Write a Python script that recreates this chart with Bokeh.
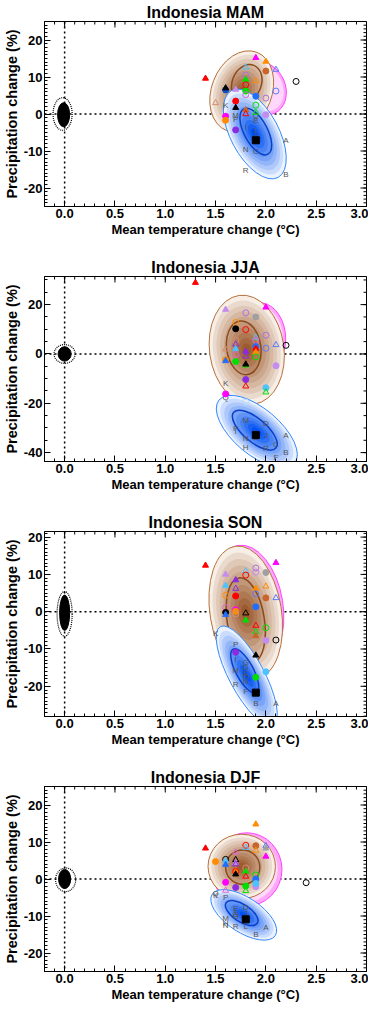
import numpy as np
from bokeh.plotting import figure
from bokeh.layouts import column
from bokeh.models import FixedTicker, PrintfTickFormatter, Range1d, Span, ColumnDataSource, Spacer
from bokeh.core.properties import value
from bokeh.embed import file_html
from bokeh.resources import INLINE

FONT = "Liberation Sans"

COL = {"RED": "#ff0000", "ORG": "#ff8c00", "MAG": "#ff00ff", "GRN": "#00e000",
       "BLU": "#1f6fff", "NAV": "#0a4fc8", "PUR": "#8a2be2", "LAV": "#c58cf0",
       "BRN": "#c8652a", "TAN": "#d4906c", "BLK": "#000000", "GRY": "#a0a0a0",
       "SKY": "#4cc3ff", "CRN": "#5b7cff", "ORC": "#e066d0", "VIO": "#b070e0",
       "PAL": "#b8dcff"}

# ---------------- titles / axes ----------------
titles = ["Indonesia MAM", "Indonesia JJA", "Indonesia SON", "Indonesia DJF"]
x_lo, x_hi = -0.2, 3.0
y_lo = [-25, -43.6, -28.1, -25]
y_hi = [25, 31.4, 21.5, 25]
y_major = [[-20, -10, 0, 10, 20], [-40, -20, 0, 20], [-20, -10, 0, 10, 20], [-20, -10, 0, 10, 20]]
y_minor_step = [1, 5, 1, 1]
x_major = [0.0, 0.5, 1.0, 1.5, 2.0, 2.5, 3.0]
x_minor_step = 0.1

# ---------------- ellipses: pink, brown, blue (outer) ----------------
mam_ell_x = [1.98, 1.76, 1.89]
mam_ell_y = [6.9, 6.1, -5.4]
mam_ell_w = [0.43, 0.60, 0.98]
mam_ell_h = [14.6, 22.7, 13.0]
mam_ell_a = [0.4, -0.37, -1.08]
mam_in_x = [1.81, 1.90]
mam_in_y = [8.3, -4.75]
mam_in_w = [0.29, 0.51]
mam_in_h = [10.4, 6.3]
mam_in_a = [-0.37, -1.08]

jja_ell_x = [1.97, 1.81, 1.91]
jja_ell_y = [7.5, 1.7, -31.5]
jja_ell_w = [0.45, 0.74, 0.98]
jja_ell_h = [26.6, 44.5, 18.7]
jja_ell_a = [0.14, 0.14, -0.70]
jja_in_x = [1.78, 1.89]
jja_in_y = [2.5, -30.9]
jja_in_w = [0.34, 0.55]
jja_in_h = [21.9, 9.4]
jja_in_a = [0.14, -0.70]

son_ell_x = [1.82, 1.80, 1.81]
son_ell_y = [1.5, -0.2, -17.2]
son_ell_w = [0.70, 0.71, 1.11]
son_ell_h = [33.0, 36.0, 9.4]
son_ell_a = [0.16, 0.16, -1.08]
son_in_x = [1.80, 1.79]
son_in_y = [-2.3, -15.9]
son_in_w = [0.37, 0.49]
son_in_h = [23.0, 4.7]
son_in_a = [0.16, -1.08]

djf_ell_x = [1.81, 1.76, 1.78]
djf_ell_y = [2.6, 3.4, -9.7]
djf_ell_w = [0.70, 0.67, 0.75]
djf_ell_h = [19.8, 17.4, 9.4]
djf_ell_a = [0.0, 0.0, -0.58]
djf_in_x = [1.77, 1.76]
djf_in_y = [3.2, -9.2]
djf_in_w = [0.34, 0.37]
djf_in_h = [9.3, 4.7]
djf_in_a = [0.0, -0.58]

# ---------------- natural variability cloud (core, fringe) ----------------
blob_x = [[-0.01, -0.02], [0.0, 0.0], [0.0, 0.0], [0.0, 0.01]]
blob_y = [[-0.2, 0.0], [0.0, 0.0], [-0.3, -0.6], [0.0, -0.2]]
blob_w = [[0.12, 0.19], [0.13, 0.21], [0.10, 0.15], [0.12, 0.20]]
blob_h = [[6.5, 8.8], [5.8, 7.6], [9.5, 12.0], [5.2, 6.4]]

# ---------------- model markers ----------------
mam_x = [1.4, 1.5, 1.6, 1.6, 1.6, 1.6, 1.7, 1.7, 1.7, 1.7, 1.9, 2.0, 2.1, 2.0, 1.8, 1.8, 1.8, 1.8, 1.8, 1.8,
         1.9, 1.9, 2.1, 2.0, 2.3, 1.9, 1.9, 2.0, 1.8, 1.8]
mam_y = [9.6, 3.0, 6.5, 7.0, -0.6, -1.7, 3.5, 1.7, -4.3, 6.6, 15.2, 14.2, 12.0, 11.6, 12.6, 10.5, 9.3, 7.9, 6.2, 5.2,
         9.0, 4.8, 6.2, 4.3, 8.8, 2.4, 0.4, -0.2, 1.1, 0.0]
mam_k = ["tf", "to", "cf", "tf", "cf", "cf", "cf", "tf", "cf", "tf", "tf", "tf", "to", "cf", "to", "co", "tf", "co", "cf", "co",
         "to", "cf", "co", "co", "co", "co", "to", "cf", "tf", "to"]
mam_c = ["RED", "TAN", "NAV", "BLK", "MAG", "ORG", "RED", "BLK", "PUR", "LAV", "MAG", "ORG", "CRN", "BRN", "SKY", "VIO", "GRN", "RED", "GRN", "ORC",
         "ORG", "BLU", "CRN", "VIO", "BLK", "GRN", "GRN", "LAV", "BRN", "RED"]

jja_x = [1.3, 1.6, 2.0, 1.8, 1.9, 1.7, 1.7, 1.8, 2.0, 1.7, 1.9, 1.9, 1.7, 2.1, 2.2, 1.9, 2.0, 1.9, 1.9, 1.6,
         1.7, 1.8, 1.7, 1.8, 1.9, 1.6, 1.6, 1.7, 1.8, 1.8, 2.1, 1.8, 1.8, 2.0, 2.0, 1.6, 1.8]
jja_y = [28.9, 18.0, 18.9, 16.7, 15.0, 12.8, 10.2, 9.9, 7.6, 5.6, 6.7, 5.4, 3.9, 3.7, 3.5, 3.0, 2.3, 2.2, 0.7, 1.9,
         2.0, 1.0, -0.3, -0.9, -1.2, -2.4, -2.8, -3.1, -4.6, -4.2, -4.8, -10.4, -13.1, -13.7, -15.5, -16.2, -19.5]
jja_k = ["tf", "tf", "tf", "co", "cf", "co", "cf", "co", "co", "co", "to", "co", "to", "to", "co", "cf", "co", "tf", "tf", "to",
         "tf", "tf", "co", "to", "co", "cf", "tf", "cf", "tf", "tf", "cf", "cf", "to", "cf", "to", "cf", "co"]
jja_c = ["RED", "LAV", "MAG", "VIO", "GRY", "ORG", "BLK", "RED", "VIO", "TAN", "SKY", "ORC", "PUR", "CRN", "BLK", "BLU", "CRN", "RED", "ORG", "TAN",
         "SKY", "PUR", "ORC", "PUR", "GRN", "ORG", "BLU", "GRN", "GRN", "BLK", "LAV", "PUR", "RED", "SKY", "GRN", "MAG", "PAL"]

son_x = [1.4, 2.1, 1.6, 1.8, 1.8, 1.9, 1.9, 2.0, 1.7, 1.6, 1.7, 1.9, 2.0, 1.6, 1.7, 1.9, 2.0, 2.1, 1.6, 1.9,
         1.7, 1.7, 1.7, 1.6, 1.6, 1.8, 1.8, 1.9, 2.0, 1.9, 1.9, 2.0, 2.1, 1.7, 1.9, 2.0, 1.9]
son_y = [12.4, 13.1, 10.0, 10.9, 9.8, 11.7, 10.6, 10.5, 8.5, 7.0, 6.2, 6.2, 6.8, 4.4, 4.2, 4.8, 3.7, 3.7, 1.1, 1.3,
         0.5, 0.1, -0.6, -0.2, -0.8, -0.4, -2.3, -3.7, -4.3, -5.4, -6.5, -7.7, -7.6, -10.9, -11.7, -16.1, -17.6]
son_k = ["tf", "tf", "tf", "to", "co", "co", "co", "cf", "tf", "tf", "to", "tf", "to", "co", "cf", "co", "cf", "to", "co", "cf",
         "cf", "cf", "co", "cf", "tf", "to", "tf", "to", "co", "to", "tf", "cf", "co", "cf", "tf", "cf", "cf"]
son_c = ["RED", "MAG", "LAV", "SKY", "RED", "VIO", "LAV", "GRY", "PUR", "SKY", "PUR", "ORG", "ORG", "ORG", "RED", "CRN", "BRN", "CRN", "ORC", "BLU",
         "MAG", "ORG", "TAN", "BLK", "BLU", "BLK", "GRN", "RED", "GRN", "GRN", "BRN", "LAV", "BLK", "PUR", "BLK", "SKY", "GRN"]

djf_x = [1.9, 1.4, 1.8, 1.8, 1.9, 1.9, 2.0, 2.0, 2.0, 1.5, 1.6, 1.6, 1.6, 1.7, 1.7, 1.7, 1.7, 1.8, 1.7, 1.7,
         1.7, 1.8, 1.8, 1.9, 1.9, 1.6, 1.7, 1.8, 1.8, 1.9, 1.9, 1.6, 2.4]
djf_y = [14.8, 8.3, 9.1, 8.5, 9.0, 7.7, 9.0, 8.3, 6.1, 4.7, 5.3, 4.9, 3.9, 5.2, 4.3, 4.0, 7.2, 3.0, 2.2, 2.0,
         1.3, 2.0, 0.7, 1.1, 0.0, -0.9, -2.3, -1.9, -3.2, -2.1, -1.2, -3.1, -1.0]
djf_k = ["tf", "tf", "co", "to", "cf", "to", "to", "tf", "tf", "cf", "co", "tf", "tf", "to", "tf", "to", "to", "co", "tf", "co",
         "tf", "tf", "to", "co", "cf", "cf", "cf", "cf", "to", "cf", "cf", "to", "co"]
djf_c = ["ORG", "RED", "RED", "SKY", "BRN", "ORG", "CRN", "GRY", "MAG", "ORG", "BLK", "SKY", "BLU", "BLK", "LAV", "PUR", "ORC", "TAN", "ORG", "RED",
         "BLK", "GRN", "RED", "GRN", "BLU", "MAG", "PUR", "GRN", "GRN", "LAV", "SKY", "ORC", "BLK"]

# ---------------- lettered models ----------------
mam_lt = ["K", "M", "P", "Q", "E", "I", "L", "O", "A", "N", "C", "R", "B"]
mam_lx = [1.6, 1.7, 1.7, 1.9, 1.9, 1.8, 1.9, 1.9, 2.2, 1.8, 1.9, 1.8, 2.2]
mam_ly = [2.2, -0.4, -1.6, -0.3, -1.7, -3.7, -4.4, -6.3, -7.2, -9.7, -10.1, -15.4, -16.3]

jja_lt = ["K", "Q", "M", "D", "P", "I", "N", "O", "J", "L", "A", "C", "H", "R", "B", "F"]
jja_lx = [1.6, 1.6, 1.8, 2.0, 1.7, 1.7, 1.8, 1.9, 2.0, 1.9, 2.2, 2.1, 1.8, 2.0, 2.2, 2.1]
jja_ly = [-12.0, -17.5, -27.0, -28.3, -30.3, -31.3, -34.2, -33.8, -32.9, -32.0, -32.9, -36.8, -38.1, -38.4, -40.1, -41.8]

son_lt = ["K", "P", "I", "M", "G", "D", "E", "O", "N", "R", "F", "B", "A"]
son_lx = [1.5, 1.7, 1.7, 1.7, 1.8, 1.8, 1.8, 1.8, 1.8, 1.7, 1.8, 1.9, 2.1]
son_ly = [-5.8, -8.9, -12.8, -15.8, -13.7, -15.0, -16.5, -17.5, -18.7, -19.6, -21.5, -24.5, -24.5]

djf_lt = ["Q", "K", "P", "D", "E", "I", "G", "O", "J", "M", "H", "N", "R", "L", "A", "B"]
djf_lx = [1.5, 1.5, 1.6, 1.8, 1.7, 1.7, 1.7, 1.7, 1.8, 1.6, 1.6, 1.6, 1.7, 1.8, 2.0, 1.9]
djf_ly = [-4.0, -4.4, -5.0, -7.6, -8.0, -8.8, -9.5, -10.2, -9.4, -10.8, -12.0, -12.5, -12.8, -12.8, -13.0, -15.0]

# multi-model mean (black square)
sq_x = [1.9, 1.9, 1.9, 1.8]
sq_y = [-7.1, -32.9, -21.7, -10.9]

ELL = [(mam_ell_x, mam_ell_y, mam_ell_w, mam_ell_h, mam_ell_a),
       (jja_ell_x, jja_ell_y, jja_ell_w, jja_ell_h, jja_ell_a),
       (son_ell_x, son_ell_y, son_ell_w, son_ell_h, son_ell_a),
       (djf_ell_x, djf_ell_y, djf_ell_w, djf_ell_h, djf_ell_a)]
INN = [(mam_in_x, mam_in_y, mam_in_w, mam_in_h, mam_in_a),
       (jja_in_x, jja_in_y, jja_in_w, jja_in_h, jja_in_a),
       (son_in_x, son_in_y, son_in_w, son_in_h, son_in_a),
       (djf_in_x, djf_in_y, djf_in_w, djf_in_h, djf_in_a)]
PTS = [(mam_x, mam_y, mam_k, mam_c), (jja_x, jja_y, jja_k, jja_c),
       (son_x, son_y, son_k, son_c), (djf_x, djf_y, djf_k, djf_c)]
LETS = [(mam_lx, mam_ly, mam_lt), (jja_lx, jja_ly, jja_lt),
        (son_lx, son_ly, son_lt), (djf_lx, djf_ly, djf_lt)]

FRAME_W = 322
FRAME_H = 185
GAP = 16


def mix(c1, c2, t):
    a = np.array([int(c1[i:i + 2], 16) for i in (1, 3, 5)], dtype=float)
    b = np.array([int(c2[i:i + 2], 16) for i in (1, 3, 5)], dtype=float)
    m = np.round(a + (b - a) * t).astype(int)
    return "#%02x%02x%02x" % tuple(m)


def gradient(p, x, y, w, h, a, edge, center, n=10, smin=0.12):
    scales = np.linspace(1.0, smin, n)
    for i, s in enumerate(scales):
        t = (i / (n - 1)) ** 0.9
        p.ellipse(x=[x], y=[y], width=[w * s], height=[h * s], angle=[a],
                  fill_color=mix(edge, center, t), line_color=None)


def style_axis(ax, label_size):
    ax.axis_line_color = "black"
    ax.major_tick_in = 6
    ax.major_tick_out = 0
    ax.minor_tick_in = 3
    ax.minor_tick_out = 0
    ax.major_tick_line_color = "black"
    ax.minor_tick_line_color = "black"
    ax.major_label_text_font = FONT
    ax.major_label_text_font_size = "13px"
    ax.major_label_text_font_style = "bold"
    ax.major_label_text_color = "black"
    ax.major_label_text_line_height = 1.0
    ax.major_label_standoff = 2
    ax.axis_label_text_font = FONT
    ax.axis_label_text_font_size = label_size
    ax.axis_label_text_font_style = "bold"
    ax.axis_label_text_color = "black"
    ax.axis_label_text_line_height = 1.0
    ax.axis_label_standoff = 1


items = []
for i in range(4):
    p = figure(frame_width=FRAME_W, frame_height=FRAME_H, x_range=Range1d(x_lo, x_hi),
               y_range=Range1d(y_lo[i], y_hi[i]), output_backend="svg",
               toolbar_location=None, min_border_left=5, min_border_right=2,
               min_border_bottom=0, min_border_top=0)
    p.title.text = titles[i]
    p.title.align = "center"
    p.title.text_font = FONT
    p.title.text_font_size = "16px"
    p.title.text_font_style = "bold"
    p.title.text_color = "black"
    p.title.text_line_height = 1.0
    p.title.standoff = 2
    p.grid.visible = False
    p.outline_line_color = "black"
    p.outline_line_alpha = 1.0

    x_minor = list(np.round(np.arange(x_lo, x_hi + 0.0001, x_minor_step), 2))
    ys = y_minor_step[i]
    y_minor = list(np.arange(np.ceil(y_lo[i] / ys) * ys, y_hi[i] + 0.01, ys))
    xt = FixedTicker(ticks=x_major, minor_ticks=x_minor)
    yt = FixedTicker(ticks=y_major[i], minor_ticks=y_minor)
    p.xaxis.ticker = xt
    p.yaxis.ticker = yt
    p.xaxis.formatter = PrintfTickFormatter(format="%.1f")
    p.yaxis.formatter = PrintfTickFormatter(format="%d")
    p.xaxis.axis_label = "Mean temperature change (\u00b0C)"
    p.yaxis.axis_label = "Precipitation change (%)"
    style_axis(p.xaxis[0], "13px")
    style_axis(p.yaxis[0], "14.5px")

    # zero lines (underneath everything)
    p.add_layout(Span(location=0, dimension="width", line_color="black",
                      line_dash="2 3", line_width=1.5, level="underlay"))
    p.add_layout(Span(location=0, dimension="height", line_color="black",
                      line_dash="2 3", line_width=1.5, level="underlay"))

    ex, ey, ew, eh, ea = ELL[i]
    ix, iy, iw, ih, ia = INN[i]
    # pink ellipse (behind)
    p.ellipse(x=[ex[0]], y=[ey[0]], width=[ew[0]], height=[eh[0]], angle=[ea[0]],
              fill_color="#ffa8f8", line_color="#ff44ff", line_width=1)
    p.ellipse(x=[ex[0]], y=[ey[0]], width=[ew[0] * 0.88], height=[eh[0] * 0.88], angle=[ea[0]],
              fill_color="#ffd8fc", line_color=None)
    # brown ellipse
    gradient(p, ex[1], ey[1], ew[1], eh[1], ea[1], "#f7eee6", "#9c5a2e")
    p.ellipse(x=[ex[1]], y=[ey[1]], width=[ew[1]], height=[eh[1]], angle=[ea[1]],
              fill_color=None, line_color="#b5703c", line_width=1)
    p.ellipse(x=[ix[0]], y=[iy[0]], width=[iw[0]], height=[ih[0]], angle=[ia[0]],
              fill_color=None, line_color="#8b4a1c", line_width=1.5)
    # blue ellipse
    gradient(p, ex[2], ey[2], ew[2], eh[2], ea[2], "#eaf2ff", "#0050f0")
    p.ellipse(x=[ex[2]], y=[ey[2]], width=[ew[2]], height=[eh[2]], angle=[ea[2]],
              fill_color=None, line_color="#3388ff", line_width=1)
    p.ellipse(x=[ix[1]], y=[iy[1]], width=[iw[1]], height=[ih[1]], angle=[ia[1]],
              fill_color=None, line_color="#0a40c8", line_width=1.5)

    # natural variability cloud
    bx, by, bw, bh = blob_x[i], blob_y[i], blob_w[i], blob_h[i]
    p.ellipse(x=[bx[1]], y=[by[1]], width=[bw[1]], height=[bh[1]], fill_color=None,
              line_color="black", line_width=1.2, line_dash="1 1")
    p.ellipse(x=[bx[0]], y=[by[0]], width=[bw[0]], height=[bh[0]], fill_color="black",
              line_color="black")

    # letters
    lx, ly, lt = LETS[i]
    p.text(x=lx, y=ly, text=lt, text_font=value(FONT), text_font_size="8px",
           text_color="#555555", text_align="center", text_baseline="middle")

    # model markers
    px, py, pk, pc = PTS[i]
    src = ColumnDataSource(dict(
        x=px, y=py,
        marker=["triangle" if k[0] == "t" else "circle" for k in pk],
        color=[COL[c] for c in pc],
        falpha=[1.0 if k[1] == "f" else 0.0 for k in pk]))
    p.scatter(x="x", y="y", marker="marker", size=6, source=src,
              fill_color="color", fill_alpha="falpha", line_color="color", line_width=1)
    p.scatter(x=[sq_x[i]], y=[sq_y[i]], marker="square", size=7,
              fill_color="black", line_color="black")

    # inward ticks on top and right edges (box style)
    p.ray(x=x_major, y=[y_hi[i]] * len(x_major), length=6, length_units="screen",
          angle=-np.pi / 2, line_color="black", line_width=1)
    p.ray(x=x_minor, y=[y_hi[i]] * len(x_minor), length=3, length_units="screen",
          angle=-np.pi / 2, line_color="black", line_width=1)
    p.ray(x=[x_hi] * len(y_major[i]), y=y_major[i], length=6, length_units="screen",
          angle=np.pi, line_color="black", line_width=1)
    p.ray(x=[x_hi] * len(y_minor), y=y_minor, length=3, length_units="screen",
          angle=np.pi, line_color="black", line_width=1)

    if i > 0:
        items.append(Spacer(height=GAP, width=10))
    items.append(p)

layout = column(*items, spacing=0)
open("out.html", "w").write(file_html(layout, INLINE))
